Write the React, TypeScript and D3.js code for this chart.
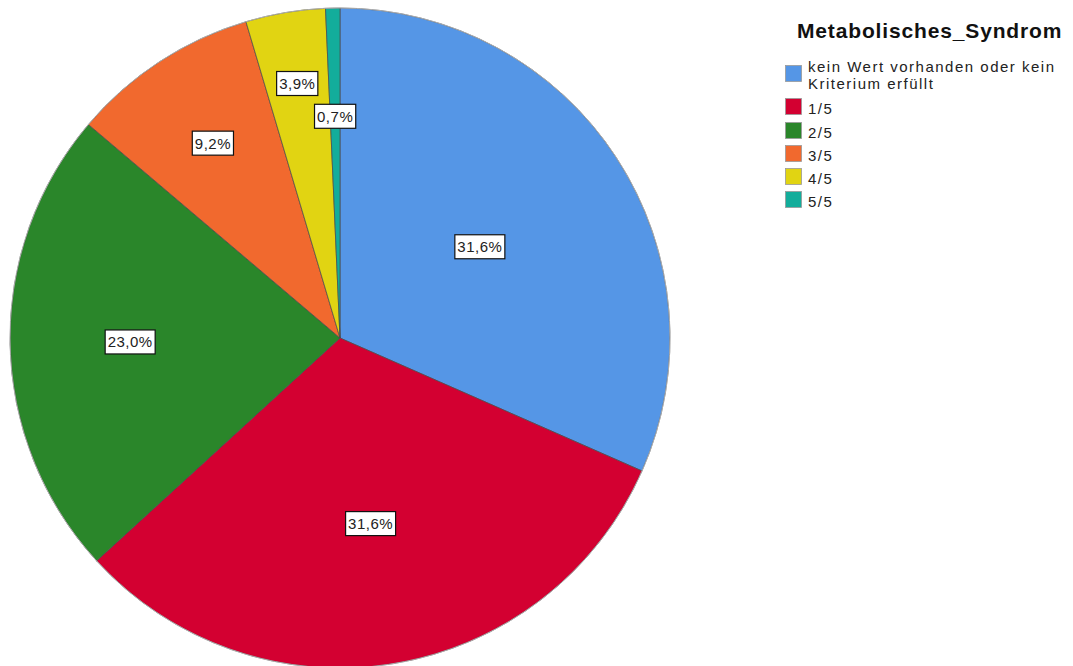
import React from "react";
import * as d3 from "d3";

const categories = [
  "kein Wert vorhanden oder kein Kriterium erfüllt",
  "1/5",
  "2/5",
  "3/5",
  "4/5",
  "5/5",
];
const percents = [31.6, 31.6, 23.0, 9.2, 3.9, 0.7];
const colors = ["#5596e6", "#d30031", "#2a862a", "#f1692e", "#e1d412", "#13ad9b"];
const legendLines = [["kein Wert vorhanden oder kein", "Kriterium erfüllt"], ["1/5"], ["2/5"], ["3/5"], ["4/5"], ["5/5"]];
// relative radius where SPSS placed each value label
const labelRadius = [0.506, 0.57, 0.636, 0.705, 0.782, 0.672];
const title = "Metabolisches_Syndrom";

const W = 1073;
const H = 666;
const cx = 340;
const cy = 338;
const R = 330;

const fmt = (v: number) => v.toFixed(1).replace(".", ",") + "%";

export default function App() {
  const pie = d3.pie<number>().sort(null).value((d) => d).startAngle(0).endAngle(2 * Math.PI);
  const arcs = pie(percents);
  const arc = d3.arc<d3.PieArcDatum<number>>().innerRadius(0).outerRadius(R);

  const labelW = (s: string) => s.length * 8.8 + 6;

  const legendTops = [65, 98, 122, 145, 168, 191];

  return (
    <svg width={W} height={H} style={{ position: "absolute", left: 0, top: 0, fontFamily: "'Liberation Sans', Arial, sans-serif" }}>
      <rect width={W} height={H} fill="#fff" />
      <g transform={`translate(${cx},${cy})`}>
        {arcs.map((a, i) => (
          <path key={i} d={arc(a) || ""} fill={colors[i]} stroke="#4a4a4a" strokeWidth={0.7} />
        ))}
        <circle r={R} fill="none" stroke="#bbb" strokeWidth={0.8} />
        {arcs.map((a, i) => {
          const mid = (a.startAngle + a.endAngle) / 2;
          const r = labelRadius[i] * R;
          const x = Math.sin(mid) * r;
          const y = -Math.cos(mid) * r;
          const t = fmt(percents[i]);
          const w = labelW(t);
          const h = 24;
          return (
            <g key={"l" + i} transform={`translate(${x},${y})`}>
              <rect x={-w / 2} y={-h / 2} width={w} height={h} fill="#fff" stroke="#111" strokeWidth={1.2} />
              <text textAnchor="middle" y={5.5} fontSize={15} fill="#222" letterSpacing={0.5}>
                {t}
              </text>
            </g>
          );
        })}
      </g>
      <text x={797} y={38} fontSize={21} fontWeight="bold" fill="#111" letterSpacing={0.85}>
        {title}
      </text>
      {categories.map((c, i) => (
        <g key={"lg" + i}>
          <rect x={785.5} y={legendTops[i] + 0.5} width={16} height={16} fill={colors[i]} stroke="#999" strokeWidth={0.8} />
          {legendLines[i].map((ln, j) => (
            <text key={j} x={808} y={legendTops[i] + 7 + j * 17 + (legendLines[i].length === 1 ? 8.5 : 0)} fontSize={15} fill="#222" letterSpacing={1.5}>
              {ln}
            </text>
          ))}
        </g>
      ))}
    </svg>
  );
}
